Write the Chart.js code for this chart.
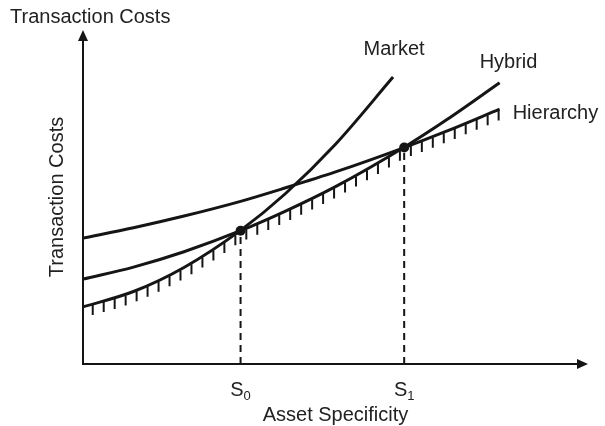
<!DOCTYPE html>
<html>
<head>
<meta charset="utf-8">
<script src="https://cdn.jsdelivr.net/npm/chart.js@4.4.1/dist/chart.umd.min.js"></script>
<style>
  html, body { margin: 0; padding: 0; background: #fff; }
  #wrap { width: 605px; height: 426px; }
</style>
</head>
<body>
<div id="wrap"><canvas id="tcChart" width="605" height="426"></canvas></div>
<script>
// Readings: asset specificity (x) vs transaction costs (y), both on a 0-100 scale
const marketX = [0, 10, 20, 31.2, 40, 50, 61.4];
const marketY = [17.1, 21.7, 28.9, 40.0, 50.9, 65.8, 85.9];
const hybridX = [0, 10, 20, 31.2, 40, 50, 63.6, 72, 82.5];
const hybridY = [25.4, 29.0, 33.6, 39.9, 45.7, 53.1, 64.9, 73.1, 84.2];
const hierarchyX = [0, 10, 20, 31.2, 40, 50, 63.6, 72, 82.5];
const hierarchyY = [37.7, 40.8, 44.3, 48.7, 52.7, 57.5, 64.8, 69.7, 76.3];

// Switching points S0 / S1
const switchNames = [['S', '0'], ['S', '1']];
const switchX = [31.2, 63.6];
const switchY = [39.9, 64.8];

const curveNames = ['Market', 'Hybrid', 'Hierarchy'];
const axisTitleX = 'Asset Specificity';
const axisTitleY = 'Transaction Costs';

const FONT = '"Liberation Sans", Arial, Helvetica, sans-serif';
const INK = '#151515';

function pts(xs, ys) {
    return xs.map((x, i) => ({ x: x, y: ys[i] }));
}

function bez(p0, p1, p2, p3, t) {
    const u = 1 - t;
    return u * u * u * p0 + 3 * u * u * t * p1 + 3 * u * t * t * p2 + t * t * t * p3;
}

// y pixel of a drawn curve at pixel x, following the library's own bezier segments
function yOnCurve(points, px) {
    for (let i = 0; i < points.length - 1; i++) {
        const a = points[i], b = points[i + 1];
        if (px < a.x || px > b.x) continue;
        if (a.cp2x === undefined || b.cp1x === undefined) {
            return a.y + (b.y - a.y) * (px - a.x) / (b.x - a.x);
        }
        let lo = 0, hi = 1, t = 0.5;
        for (let k = 0; k < 30; k++) {
            t = (lo + hi) / 2;
            if (bez(a.x, a.cp2x, b.cp1x, b.x, t) < px) lo = t; else hi = t;
        }
        return bez(a.y, a.cp2y, b.cp1y, b.y, t);
    }
    return null;
}

const decorPlugin = {
    id: 'decor',
    afterDatasetsDraw(chart) {
        const ctx = chart.ctx;
        const area = chart.chartArea;
        const xs = chart.scales.x, ys = chart.scales.y;
        const mkt = chart.getDatasetMeta(0).data;
        const hyb = chart.getDatasetMeta(1).data;
        const hie = chart.getDatasetMeta(2).data;

        ctx.save();
        ctx.strokeStyle = INK;
        ctx.fillStyle = INK;
        ctx.lineCap = 'butt';

        // hatching under the lower envelope
        const s0 = xs.getPixelForValue(switchX[0]);
        const s1 = xs.getPixelForValue(switchX[1]);
        ctx.lineWidth = 2;
        ctx.beginPath();
        for (let px = hie[hie.length - 1].x - 1; px >= area.left + 8; px -= 10.97) {
            const src = px <= s0 ? mkt : (px <= s1 ? hyb : hie);
            const py = yOnCurve(src, px);
            if (py === null) continue;
            ctx.moveTo(px, py + 1);
            ctx.lineTo(px, py + 11);
        }
        ctx.stroke();

        // axes with arrowheads
        ctx.lineWidth = 2;
        ctx.beginPath();
        ctx.moveTo(area.left, area.top + 8);
        ctx.lineTo(area.left, area.bottom);
        ctx.lineTo(area.right - 8, area.bottom);
        ctx.stroke();
        ctx.beginPath();
        ctx.moveTo(area.left, area.top);
        ctx.lineTo(area.left - 5, area.top + 11);
        ctx.lineTo(area.left + 5, area.top + 11);
        ctx.closePath();
        ctx.fill();
        ctx.beginPath();
        ctx.moveTo(area.right, area.bottom);
        ctx.lineTo(area.right - 11, area.bottom - 5);
        ctx.lineTo(area.right - 11, area.bottom + 5);
        ctx.closePath();
        ctx.fill();

        // texts
        ctx.fillStyle = '#222';
        ctx.textBaseline = 'alphabetic';
        ctx.font = '20px ' + FONT;

        ctx.textAlign = 'left';
        ctx.fillText(axisTitleY, 10, 23);

        ctx.textAlign = 'center';
        ctx.fillText(axisTitleX, (area.left + area.right) / 2, 421);

        ctx.save();
        ctx.translate(63, (area.top + area.bottom) / 2);
        ctx.rotate(-Math.PI / 2);
        ctx.fillText(axisTitleY, 0, 0);
        ctx.restore();

        // curve names next to the line ends
        const mEnd = mkt[mkt.length - 1], hEnd = hyb[hyb.length - 1], rEnd = hie[hie.length - 1];
        ctx.textAlign = 'center';
        ctx.fillText(curveNames[0], mEnd.x + 1, mEnd.y - 22);
        ctx.textAlign = 'left';
        ctx.fillText(curveNames[1], hEnd.x - 20, hEnd.y - 15);
        ctx.fillText(curveNames[2], rEnd.x + 13, rEnd.y + 10);

        // S0 / S1 with subscripts
        switchNames.forEach((nm, i) => {
            const cx = xs.getPixelForValue(switchX[i]);
            ctx.font = '20px ' + FONT;
            const w1 = ctx.measureText(nm[0]).width;
            ctx.font = '13px ' + FONT;
            const w2 = ctx.measureText(nm[1]).width;
            const left = cx - (w1 + w2) / 2;
            ctx.textAlign = 'left';
            ctx.font = '20px ' + FONT;
            ctx.fillText(nm[0], left, 396);
            ctx.font = '13px ' + FONT;
            ctx.fillText(nm[1], left + w1, 400);
        });

        ctx.restore();
    }
};

const lineStyle = {
    showLine: true,
    borderColor: INK,
    borderWidth: 3,
    pointRadius: 0,
    cubicInterpolationMode: 'monotone',
    fill: false
};

const ctx = document.getElementById('tcChart').getContext('2d');
const chart = new Chart(ctx, {
    type: 'scatter',
    data: {
        datasets: [
            Object.assign({ label: curveNames[0], data: pts(marketX, marketY), order: 3 }, lineStyle),
            Object.assign({ label: curveNames[1], data: pts(hybridX, hybridY), order: 3 }, lineStyle),
            Object.assign({ label: curveNames[2], data: pts(hierarchyX, hierarchyY), order: 3 }, lineStyle),
            {
                label: 'S0 drop',
                data: [{ x: switchX[0], y: 0 }, { x: switchX[0], y: switchY[0] }],
                showLine: true, borderColor: INK, borderWidth: 2, borderDash: [7, 5],
                pointRadius: 0, order: 4
            },
            {
                label: 'S1 drop',
                data: [{ x: switchX[1], y: 0 }, { x: switchX[1], y: switchY[1] }],
                showLine: true, borderColor: INK, borderWidth: 2, borderDash: [7, 5],
                pointRadius: 0, order: 4
            },
            {
                label: 'switch points',
                data: pts(switchX, switchY),
                showLine: false,
                pointRadius: 5,
                pointBackgroundColor: INK,
                pointBorderColor: INK,
                pointBorderWidth: 0,
                order: 1
            }
        ]
    },
    options: {
        responsive: false,
        animation: false,
        events: [],
        layout: { padding: { left: 83, right: 17, top: 30, bottom: 62 } },
        scales: {
            x: { type: 'linear', min: 0, max: 100, display: false },
            y: { type: 'linear', min: 0, max: 100, display: false }
        },
        plugins: {
            legend: { display: false },
            tooltip: { enabled: false },
            title: { display: false }
        }
    },
    plugins: [decorPlugin]
});
</script>
</body>
</html>
